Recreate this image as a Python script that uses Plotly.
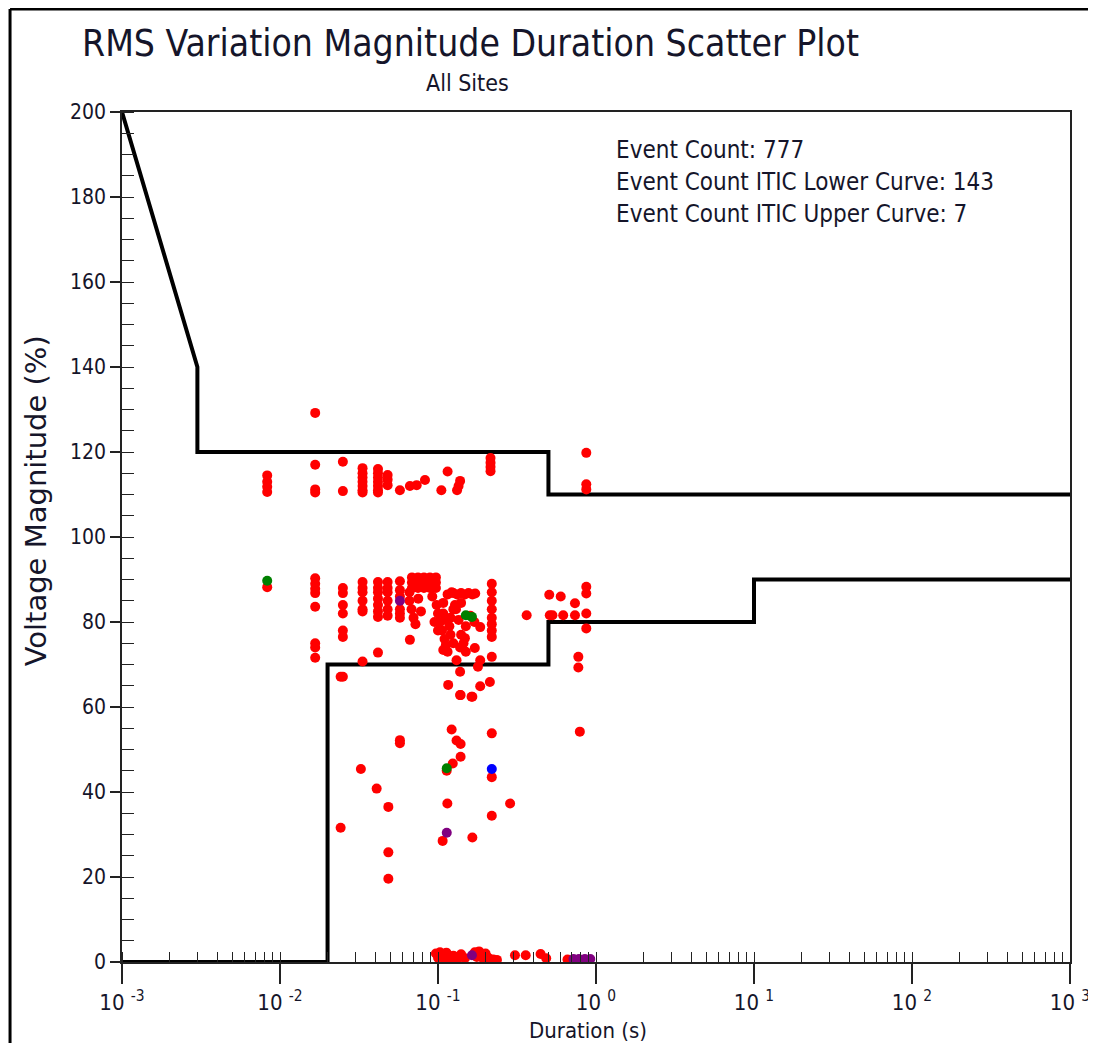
import plotly.graph_objects as go

# ---------------- data ----------------
# ITIC curves (duration s, magnitude %)
itic_upper_x = [0.001, 0.003, 0.003, 0.5, 0.5, 1000]
itic_upper_y = [200, 140, 120, 120, 110, 110]
itic_lower_x = [0.001, 0.02, 0.02, 0.5, 0.5, 10, 10, 1000]
itic_lower_y = [0, 0, 70, 70, 80, 80, 90, 90]

red_x = [
    # swell cluster
    0.0083, 0.0083, 0.0083, 0.0083,
    0.0167, 0.0167, 0.0167, 0.0167,
    0.025, 0.025,
    0.0333, 0.0333, 0.0333, 0.0333, 0.0333, 0.0333, 0.0333,
    0.0417, 0.0417, 0.0417, 0.0417, 0.0417, 0.0417, 0.0417,
    0.048, 0.048, 0.048,
    0.0574, 0.0664, 0.0733, 0.0827,
    0.105, 0.115, 0.132, 0.135, 0.138,
    0.215, 0.215, 0.215, 0.215,
    0.868, 0.868, 0.868,
    # sag columns
    0.0083,
    0.0167, 0.0167, 0.0167, 0.0167, 0.0167, 0.0167, 0.0167, 0.0167,
    0.025, 0.025, 0.025, 0.025, 0.025, 0.025, 0.025,
    0.0333, 0.0333, 0.0333, 0.0333, 0.0333, 0.0333, 0.0333,
    0.0417, 0.0417, 0.0417, 0.0417, 0.0417, 0.0417, 0.0417, 0.0417,
    0.048, 0.048, 0.048, 0.048, 0.048, 0.048,
    0.0574, 0.0574, 0.0574, 0.0574, 0.0574, 0.0574,
    # dense block
    0.0684, 0.0747, 0.0815, 0.0889, 0.097,
    0.0684, 0.0747, 0.0815, 0.0889, 0.097,
    0.0684, 0.0747, 0.0815, 0.0889, 0.097,
    0.066, 0.066, 0.068, 0.070, 0.072, 0.075, 0.078, 0.0664,
    0.092, 0.098, 0.100, 0.103, 0.106, 0.110, 0.112, 0.115, 0.118, 0.120,
    0.125, 0.108, 0.115, 0.122, 0.095, 0.100, 0.112, 0.120, 0.125, 0.108,
    0.125, 0.132, 0.140, 0.148, 0.156, 0.165, 0.172, 0.140, 0.130,
    0.140, 0.145, 0.150, 0.138, 0.131, 0.138, 0.116, 0.138, 0.163, 0.185,
    0.213, 0.219, 0.185, 0.179, 0.171, 0.148, 0.108,
    0.219, 0.219, 0.219, 0.219, 0.219, 0.219, 0.219, 0.219,
    0.185, 0.170, 0.160, 0.150, 0.135, 0.128,
    # right group
    0.364, 0.506, 0.598, 0.51, 0.53, 0.62, 0.736, 0.736,
    0.868, 0.868, 0.868, 0.868, 0.773, 0.773, 0.79,
    # deep sags
    0.219, 0.0574, 0.0574, 0.122, 0.131, 0.139, 0.139, 0.124, 0.1135,
    0.219, 0.0325, 0.0409, 0.0485, 0.0242, 0.1146, 0.286, 0.219, 0.107,
    0.165, 0.0485, 0.0485, 0.139, 0.165, 0.0242,
    # interruptions
    0.097, 0.100, 0.103, 0.106, 0.110, 0.113, 0.117, 0.120, 0.125, 0.132,
    0.140, 0.148, 0.171, 0.176, 0.182, 0.188, 0.194, 0.200, 0.208, 0.224,
    0.236, 0.307, 0.359, 0.446, 0.484, 0.66,
]
red_y = [
    114.5, 113.0, 111.8, 110.6,
    129.2, 117.0, 111.2, 110.5,
    117.7, 110.8,
    116.2, 115.0, 114.0, 113.0, 112.0, 111.0, 110.5,
    116.0, 115.0, 114.0, 113.0, 112.0, 111.0, 110.5,
    114.6, 113.5, 112.2,
    111.0, 112.0, 112.2, 113.4,
    111.0, 115.4, 111.0, 112.0, 113.2,
    118.6, 117.5, 116.5, 115.5,
    119.8, 112.4, 111.2,
    88.2,
    90.3, 89.0, 87.8, 86.8, 83.6, 75.0, 74.0, 71.6,
    88.0, 86.8, 84.0, 82.0, 78.0, 76.5, 67.1,
    89.4, 88.0, 87.0, 85.0, 83.0, 82.5, 70.7,
    89.4, 88.0, 87.0, 85.5, 84.0, 82.5, 81.2, 72.8,
    89.4, 88.0, 87.0, 85.0, 83.0, 81.5,
    89.6, 87.5, 86.0, 83.0, 82.0, 81.0,
    90.5, 90.5, 90.5, 90.5, 90.5,
    89.3, 89.3, 89.3, 89.3, 89.3,
    88.0, 88.0, 88.0, 88.0, 88.0,
    87.0, 85.0, 83.0, 81.0, 79.5, 85.5, 82.5, 75.8,
    86.0, 84.0, 82.0, 80.0, 78.0, 76.0, 74.5, 73.0, 79.0, 81.0,
    83.0, 84.5, 86.5, 87.0, 80.0, 78.0, 80.5, 77.0, 75.0, 82.0,
    86.8, 86.5, 86.8, 86.5, 86.8, 86.5, 86.7, 84.5, 83.0,
    77.0, 75.0, 73.0, 74.0, 71.0, 68.3, 65.2, 62.8, 62.4, 64.9,
    65.9, 71.8, 71.0, 69.5, 73.9, 76.2, 73.4,
    89.0, 87.0, 85.0, 83.0, 81.0, 79.5, 78.0, 76.5,
    78.8, 80.0, 81.5, 79.0, 80.5, 84.0,
    81.6, 86.4, 86.0, 81.6, 81.6, 81.6, 84.4, 81.6,
    88.3, 86.7, 82.0, 78.5, 71.8, 69.3, 54.2,
    53.8, 51.5, 52.2, 54.7, 52.1, 51.3, 48.3, 46.7, 45.0,
    43.5, 45.4, 40.8, 36.5, 31.6, 37.3, 37.3, 34.4, 28.5,
    29.3, 25.8, 19.6, 62.8, 62.4, 67.1,
    2.0, 1.0, 2.3, 1.5, 0.8, 2.2, 1.2, 0.6, 1.5, 0.5,
    1.8, 0.9, 2.3, 1.2, 2.5, 1.5, 0.7, 2.0, 1.0, 0.6,
    0.5, 1.6, 1.6, 1.9, 0.9, 0.6,
]

green_x = [0.0083, 0.150, 0.164, 0.1136]
green_y = [89.7, 81.6, 81.2, 45.6]

purple_x = [0.0574, 0.1136, 0.164, 0.72, 0.78, 0.85, 0.92]
purple_y = [85.0, 30.4, 1.6, 0.7, 0.7, 0.7, 0.7]

blue_x = [0.219]
blue_y = [45.4]

x_tick_vals = [0.001, 0.01, 0.1, 1, 10, 100, 1000]
x_tick_text = ["10 <sup>-3</sup>", "10 <sup>-2</sup>", "10 <sup>-1</sup>", "10 <sup>0</sup>",
               "10 <sup>1</sup>", "10 <sup>2</sup>", "10 <sup>3</sup>"]

title_text = "RMS Variation Magnitude Duration Scatter Plot"
subtitle_text = "All Sites"
x_title = "Duration (s)"
y_title = "Voltage Magnitude (%)"
stats_lines = [
    "Event Count: 777",
    "Event Count ITIC Lower Curve: 143",
    "Event Count ITIC Upper Curve: 7",
]

FONT = "DejaVu Sans Condensed, DejaVu Sans, Verdana, sans-serif"
FONT_WIDE = "DejaVu Sans, Verdana, sans-serif"
TXT = "#15152a"

fig = go.Figure()
fig.add_trace(go.Scatter(x=itic_upper_x, y=itic_upper_y, mode="lines",
                         line=dict(color="black", width=4), hoverinfo="skip"))
fig.add_trace(go.Scatter(x=itic_lower_x, y=itic_lower_y, mode="lines",
                         line=dict(color="black", width=4), hoverinfo="skip"))

marker_common = dict(size=10, line=dict(width=0))
fig.add_trace(go.Scatter(x=red_x, y=red_y, mode="markers",
                         marker=dict(color="#ff0000", **marker_common)))
fig.add_trace(go.Scatter(x=green_x, y=green_y, mode="markers",
                         marker=dict(color="#008000", **marker_common)))
fig.add_trace(go.Scatter(x=purple_x, y=purple_y, mode="markers",
                         marker=dict(color="#800080", **marker_common)))
fig.add_trace(go.Scatter(x=blue_x, y=blue_y, mode="markers",
                         marker=dict(color="#0000ff", **marker_common)))

fig.update_layout(
    width=1096, height=1043,
    margin=dict(l=114, r=34, t=104, b=89),
    paper_bgcolor="white", plot_bgcolor="white",
    showlegend=False,
    font=dict(family=FONT, color=TXT, size=18),
)

fig.update_xaxes(
    type="log", range=[-3, 3], tickmode="array",
    tickvals=x_tick_vals, ticktext=x_tick_text,
    showgrid=False, zeroline=False,
    showline=True, linecolor="#222", linewidth=1.5, mirror=True,
    ticks="outside", ticklen=20, tickwidth=1.5, tickcolor="#222",
    minor=dict(ticks="inside", ticklen=10, tickwidth=1.2, tickcolor="#222",
               dtick="D1", showgrid=False),
    tickfont=dict(size=22, family=FONT, color=TXT),
)
fig.update_yaxes(
    range=[0, 200], dtick=20,
    showgrid=False, zeroline=False,
    showline=True, linecolor="#222", linewidth=1.5, mirror=True,
    ticks="outside", ticklen=10, tickwidth=1.5, tickcolor="#222",
    minor=dict(ticks="inside", ticklen=12, tickwidth=1.2, tickcolor="#222",
               dtick=5, showgrid=False),
    tickfont=dict(size=21, family=FONT, color=TXT),
)

annotations = [
    dict(text=title_text, xref="paper", yref="paper", x=-0.0443, y=1.081,
         xanchor="left", yanchor="middle", showarrow=False,
         font=dict(size=37, family=FONT, color=TXT)),
    dict(text=subtitle_text, xref="paper", yref="paper", x=0.364, y=1.034,
         xanchor="center", yanchor="middle", showarrow=False,
         font=dict(size=23, family=FONT, color=TXT)),
    dict(text=x_title, xref="paper", yref="paper", x=0.492, y=-0.080,
         xanchor="center", yanchor="middle", showarrow=False,
         font=dict(size=22, family=FONT, color=TXT)),
    dict(text=y_title, xref="paper", yref="paper", x=-0.0907, y=0.542,
         xanchor="center", yanchor="middle", showarrow=False, textangle=-90,
         font=dict(size=29, family=FONT_WIDE, color=TXT)),
]
for i, line in enumerate(stats_lines):
    annotations.append(dict(text=line, xref="paper", yref="paper", x=0.519,
                            y=0.955 - i * 0.0376, xanchor="left", yanchor="middle",
                            showarrow=False, font=dict(size=24, family=FONT, color=TXT)))
fig.update_layout(annotations=annotations)

# outer frame
frame = dict(type="line", xref="paper", yref="paper", line=dict(color="black", width=3))
fig.update_layout(shapes=[
    dict(frame, x0=-0.1181, x1=-0.1181, y0=-0.11, y1=1.1212),
    dict(frame, x0=-0.1181, x1=1.0232, y0=1.1212, y1=1.1212),
    dict(frame, x0=1.0232, x1=1.0232, y0=-0.11, y1=1.1212),
])

fig.write_html("out.html")
